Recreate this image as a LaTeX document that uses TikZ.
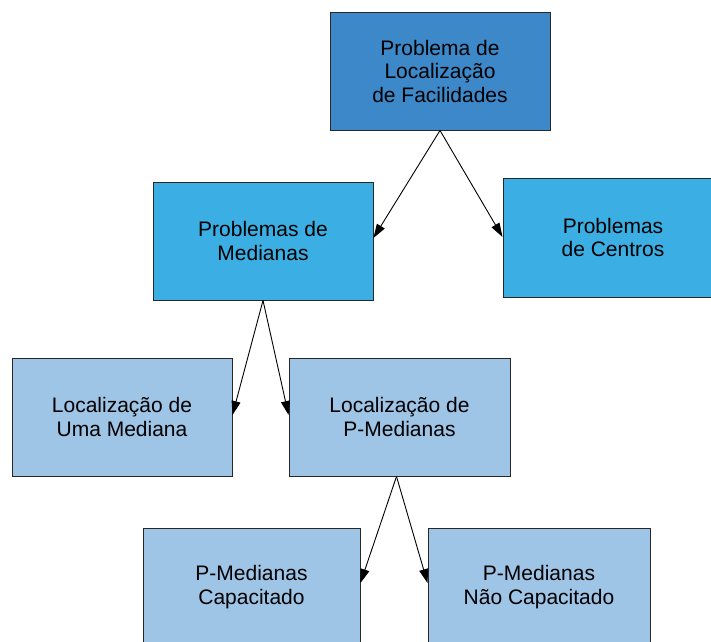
\documentclass[tikz,border=0pt]{standalone}
\usepackage{fontspec}
\setmainfont{Liberation Sans}
\usetikzlibrary{arrows.meta}
\definecolor{topblue}{RGB}{60,136,200}
\definecolor{midblue}{RGB}{59,175,227}
\definecolor{lightblue}{RGB}{158,196,230}
\definecolor{edgegray}{RGB}{40,40,40}
\tikzset{
  box/.style={draw=edgegray, line width=0.9pt, minimum width=220pt, minimum height=118pt,
    align=center, inner sep=0pt, text=black,
    font=\fontsize{21}{23.5}\selectfont},
  conn/.style={line width=0.9pt, draw=black,
    -{Triangle[length=14pt,width=9pt]}}
}
\begin{document}
\begin{tikzpicture}[x=1pt,y=-1pt]
\useasboundingbox (0,0) rectangle (711,641);
\clip (0,0) rectangle (711,641);
\fill[white] (0,0) rectangle (711,641);
\node[box, fill=topblue] (top) at (440,71) {Problema de\\Localização\\de Facilidades};
\node[box, fill=midblue] (med) at (263,241) {Problemas de\\Medianas};
\node[box, fill=midblue, minimum height=119pt] (cen) at (613,237.5) {Problemas\\de Centros};
\node[box, fill=lightblue] (uma) at (122,417) {Localização de\\Uma Mediana};
\node[box, fill=lightblue, minimum width=221pt] (pmed) at (399.5,417) {Localização de\\P-Medianas};
\node[box, fill=lightblue, minimum width=217pt] (cap) at (251.5,587) {P-Medianas\\Capacitado};
\node[box, fill=lightblue, minimum width=222pt] (ncap) at (539,587) {P-Medianas\\Não Capacitado};
\coordinate (t1) at (med.east |- 0,238);
\coordinate (t2) at (cen.west |- 0,237);
\coordinate (t3) at (uma.east |- 0,415);
\coordinate (t4) at (pmed.west |- 0,415);
\coordinate (t5) at (cap.east |- 0,583);
\coordinate (t6) at (ncap.west |- 0,583);
\draw[conn] (top.south) -- (t1);
\draw[conn] (top.south) -- (t2);
\draw[conn] (med.south) -- (t3);
\draw[conn] (med.south) -- (t4);
\draw[conn] ([xshift=-3pt]pmed.south) -- (t5);
\draw[conn] ([xshift=-3pt]pmed.south) -- (t6);
\end{tikzpicture}
\end{document}
